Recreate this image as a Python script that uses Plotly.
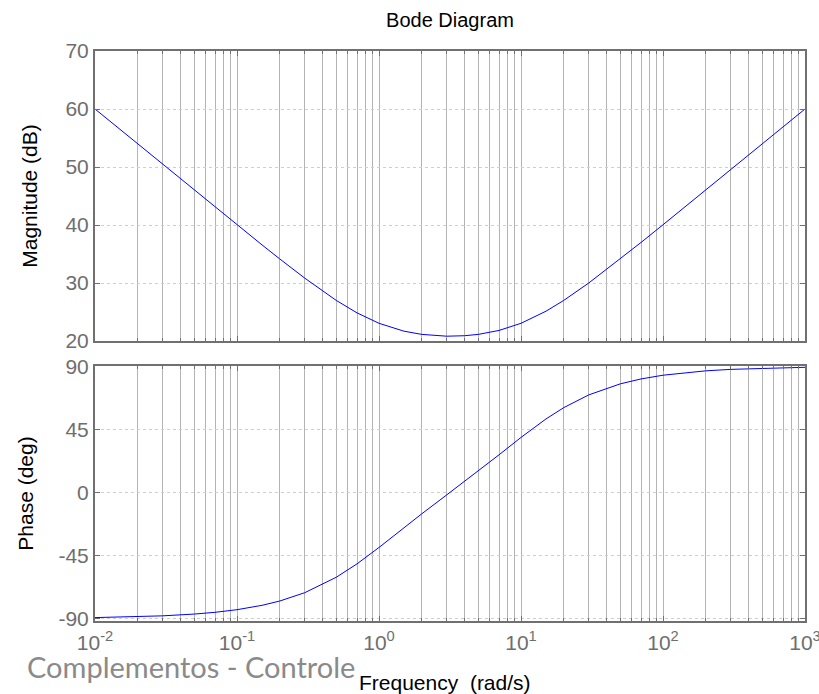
import plotly.graph_objects as go
from plotly.subplots import make_subplots

freq = [0.01, 0.02, 0.03, 0.05, 0.07, 0.1, 0.15, 0.2, 0.3, 0.5, 0.7, 1, 1.5, 2, 3, 4, 5, 7,
        10, 15, 20, 30, 50, 70, 100, 200, 300, 500, 1000]
mag_db = [60.0, 53.98, 50.46, 46.03, 43.12, 40.04, 36.57, 34.15, 30.84, 27.0, 24.85, 23.05,
          21.69, 21.14, 20.83, 20.91, 21.14, 21.82, 23.05, 25.14, 27.0, 30.0, 34.15, 36.99,
          40.04, 46.03, 49.55, 53.98, 60.0]
phase_deg = [-89.37, -88.74, -88.11, -86.85, -85.6, -83.72, -80.61, -77.54, -71.58, -60.57,
             -51.01, -39.29, -25.16, -15.26, -1.73, 7.76, 15.26, 26.86, 39.29, 52.5, 60.57,
             69.66, 77.54, 81.05, 83.72, 86.85, 87.9, 88.74, 89.37]

x_tickvals = [0.01, 0.1, 1, 10, 100, 1000]
x_ticktext = ["10<sup>-2</sup>", "10<sup>-1</sup>", "10<sup>0</sup>", "10<sup>1</sup>",
              "10<sup>2</sup>", "10<sup>3</sup>"]
mag_ticks = [20, 30, 40, 50, 60, 70]
mag_ticktext = ["20", "30", "40", "50", "60", "70"]
phase_ticks = [-90, -45, 0, 45, 90]
phase_ticktext = ["-90", "-45", "0", "45", "90"]

minor_vals = [m * d for d in x_tickvals[:-1] for m in range(2, 10)]

W, H = 819, 694
L, R, T, B = 95, 14, 51, 73
ph = H - T - B

fig = make_subplots(rows=2, cols=1, shared_xaxes=False)
fig.add_trace(go.Scatter(x=freq, y=mag_db, mode="lines", line=dict(color="#0000ff", width=1),
                         showlegend=False), row=1, col=1)
fig.add_trace(go.Scatter(x=freq, y=phase_deg, mode="lines", line=dict(color="#0000ff", width=1),
                         showlegend=False), row=2, col=1)

FONT = "Liberation Sans, Arial, sans-serif"
tick_font = dict(family=FONT, size=21, color="#6e6e6e")
title_font = dict(family=FONT, size=21, color="#000000")

common_x = dict(type="log", range=[-2, 3], showline=True, linecolor="#707070", linewidth=2,
                mirror="allticks", ticks="inside", ticklen=5, tickcolor="#707070",
                showgrid=True, gridcolor="#b4b4b4", gridwidth=1,
                tickmode="array", tickvals=x_tickvals, ticklabeloverflow="allow",
                minor=dict(tickmode="array", tickvals=minor_vals, ticks="inside", ticklen=3,
                           tickcolor="#707070", showgrid=True, gridcolor="#b4b4b4", gridwidth=1),
                zeroline=False)

fig.update_xaxes(**common_x, ticktext=[""] * len(x_tickvals), row=1, col=1)
fig.update_xaxes(**common_x, ticktext=x_ticktext, tickfont=tick_font, ticklabelstandoff=2,
                 row=2, col=1)

common_y = dict(showline=True, linecolor="#707070", linewidth=2, mirror="allticks",
                ticks="inside", ticklen=5, tickcolor="#707070", tickmode="array",
                tickfont=tick_font, showgrid=True, gridcolor="#cfcfcf", griddash="dot",
                zeroline=False)
fig.update_yaxes(**common_y, range=[20, 70], tickvals=mag_ticks, ticktext=mag_ticktext,
                 title=dict(text="Magnitude (dB)", font=title_font, standoff=22), row=1, col=1)
fig.update_yaxes(**common_y, range=[-91.8, 90.3], tickvals=phase_ticks, ticktext=phase_ticktext,
                 title=dict(text="Phase (deg)", font=title_font, standoff=19), row=2, col=1)

fig.update_layout(
    width=W, height=H,
    margin=dict(l=L, r=R, t=T, b=B, autoexpand=False),
    paper_bgcolor="white", plot_bgcolor="white",
    xaxis=dict(domain=[0, 1]), xaxis2=dict(domain=[0, 1]),
    yaxis=dict(domain=[(621 - 341) / ph, 1.0]),
    yaxis2=dict(domain=[0, (621 - 366) / ph]),
    title=dict(text="Bode Diagram", x=(L + 805) / 2 / W, xanchor="center", y=1 - 20 / H,
               yanchor="middle", font=dict(family=FONT, size=20, color="#000000")),
    annotations=[
        dict(text="Frequency\u00a0 (rad/s)", xref="paper", yref="paper",
             x=(445 - L) / (W - L - R), y=-(682 - 621) / ph,
             xanchor="center", yanchor="middle", showarrow=False, font=title_font),
        dict(text="Complementos - Controle", xref="paper", yref="paper", x=(25 - L) / (W - L - R),
             y=-(666 - 621) / ph, xanchor="left", yanchor="middle", showarrow=False,
             font=dict(family="Lato, Open Sans, sans-serif", size=29, color="#8a8a8a")),
    ],
)

fig.write_html("out.html", config={"displayModeBar": False},
               post_script="document.body.style.margin='0';")
